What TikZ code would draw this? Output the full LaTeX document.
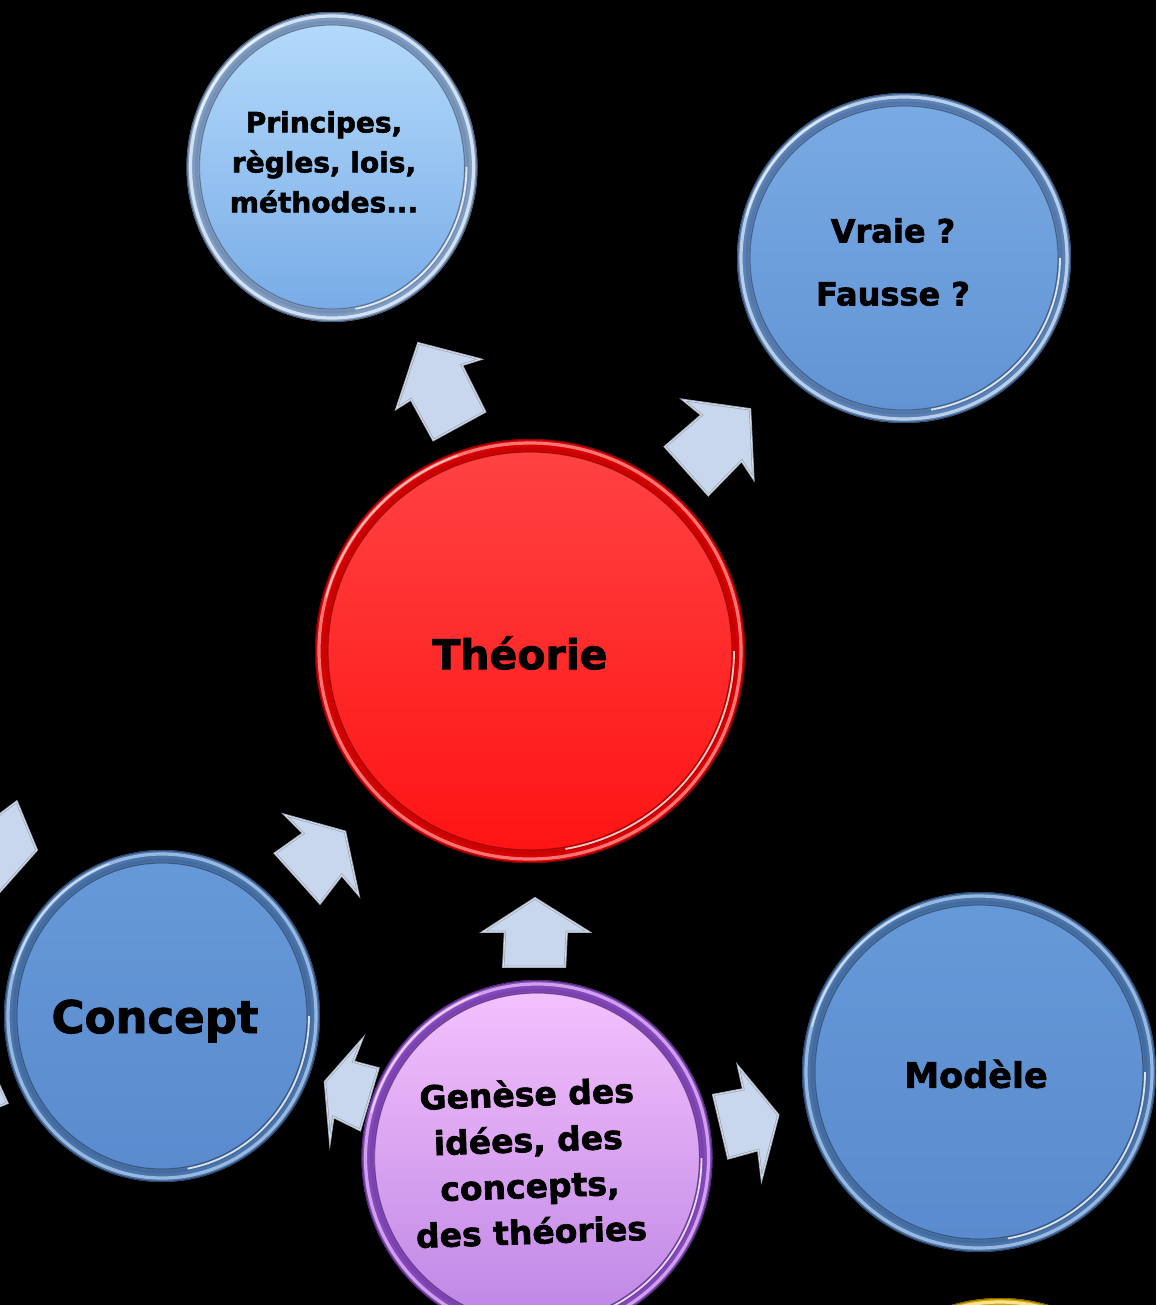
\documentclass[tikz,border=0pt]{standalone}
\usepackage{fontspec}
\setmainfont{DejaVu Sans}[BoldFeatures={FakeBold=2}]
\usetikzlibrary{shapes.geometric}

% palette
\definecolor{arrowfill}{HTML}{C9D7EE}
\definecolor{arrowedge}{HTML}{9EA9BD}
\definecolor{pringring}{HTML}{7E9DC4}
\definecolor{pringlight}{HTML}{E2EEFA}
\definecolor{printop}{HTML}{B3DAFB}
\definecolor{prinbot}{HTML}{79ACE7}
\definecolor{vrairing}{HTML}{5A82B6}
\definecolor{vrailight}{HTML}{CADDF2}
\definecolor{vraitop}{HTML}{79AAE3}
\definecolor{vraibot}{HTML}{6294D5}
\definecolor{bluering}{HTML}{4A74AC}
\definecolor{bluelight}{HTML}{A6C5EA}
\definecolor{bluetop}{HTML}{6699D8}
\definecolor{bluebot}{HTML}{5A8BCE}
\definecolor{redring}{HTML}{D80000}
\definecolor{redlight}{HTML}{FF8A8A}
\definecolor{redtop}{HTML}{FF4242}
\definecolor{redbot}{HTML}{FF1414}
\definecolor{purring}{HTML}{8548BC}
\definecolor{purlight}{HTML}{DDB0F4}
\definecolor{purtop}{HTML}{F4C0FC}
\definecolor{purbot}{HTML}{BE86E5}
\definecolor{yelring}{HTML}{D6A400}
\definecolor{yellight}{HTML}{FFF0A0}
\definecolor{yeltop}{HTML}{FFD400}
\definecolor{yelbot}{HTML}{F0B800}

% bevelled disc: centre x, centre y, rx, ry, ring, ring light, top fill, bottom fill
\newcommand\bevdisc[8]{%
  \fill[#5] (#1,#2) ellipse [x radius=#3, y radius=#4];
  \draw[#5!60!black, line width=.9pt] (#1,#2) ellipse [x radius=#3-.5, y radius=#4-.5];
  \draw[#6, line width=3.2pt, opacity=.85] (#1,#2) ellipse [x radius=#3-4, y radius=#4-4];
  \draw[#5!85!black, line width=3pt, opacity=.5] (#1,#2) ellipse [x radius=#3-10, y radius=#4-10];
  \fill[top color=#7, bottom color=#8] (#1,#2) ellipse [x radius=#3-13, y radius=#4-13];
  \draw[#5!70!black, line width=1.2pt, opacity=.7] (#1,#2) ellipse [x radius=#3-13, y radius=#4-13];
  \draw[white, opacity=.8, line width=1.8pt]
    (#1,#2) ++(0:{#3-11} and {#4-11}) arc [start angle=0, end angle=80, x radius=#3-11, y radius=#4-11];
  \draw[white, opacity=.55, line width=1.5pt]
    (#1,#2) ++(195:{#3-4} and {#4-4}) arc [start angle=195, end angle=250, x radius=#3-4, y radius=#4-4];
}

\begin{document}
\begin{tikzpicture}[x=1pt, y=-1pt,
  txt/.style={font=\bfseries, text=black, align=center, inner sep=0pt},
  blockarrow/.style={fill=arrowfill, draw=arrowedge, line width=2.4pt, line join=miter,
    postaction={draw=white, line width=.7pt, opacity=.7}},
]
\fill[black] (0,0) rectangle (1156,1305);
\useasboundingbox (0,0) rectangle (1156,1305);

% discs
\bevdisc{332}{167}{145.5}{155}{pringring}{pringlight}{printop}{prinbot}
\bevdisc{904}{258}{167}{165}{vrairing}{vrailight}{vraitop}{vraibot}
\bevdisc{530}{651}{215}{212}{redring}{redlight}{redtop}{redbot}
\bevdisc{162}{1016}{158}{166}{bluering}{bluelight}{bluetop}{bluebot}
\bevdisc{979}{1072}{177}{180}{bluering}{bluelight}{bluetop}{bluebot}
\bevdisc{537}{1158}{175.5}{178}{purring}{purlight}{purtop}{purbot}
\bevdisc{1000}{1470}{172}{172}{yelring}{yellight}{yeltop}{yelbot}

% labels
\node[txt, font=\bfseries\fontsize{28}{40}\selectfont] (princ) at (324,162)
  {Principes,\\règles, lois,\\méthodes...};
\node[txt, font=\bfseries\fontsize{32}{63}\selectfont] (vraie) at (893,262)
  {Vraie ?\\Fausse ?};
\node[txt, font=\bfseries\fontsize{41}{48}\selectfont] (theo) at (520,653) {Théorie};
\node[txt, font=\bfseries\fontsize{45}{52}\selectfont] (concept) at (155,1021) {Concept};
\node[txt, font=\bfseries\fontsize{35}{42}\selectfont] (modele) at (976,1074) {Modèle};
\node[txt, font=\bfseries\fontsize{33}{46}\selectfont, rotate=2] (genese) at (529,1162)
  {Genèse des\\idées, des\\concepts,\\des théories};

% block arrows
\draw[blockarrow] (418.3,343.3) -- (480,359.3) -- (461.7,365) -- (485,411.7)
  -- (433.3,440) -- (411,399.3) -- (396.7,408.3) -- cycle;
\draw[blockarrow] (750,409.3) -- (683.3,400) -- (701.7,415) -- (665,446.7)
  -- (708.3,495) -- (741.7,460.7) -- (753.3,478.3) -- cycle;
\draw[blockarrow] (345,831.7) -- (285,815) -- (303.3,833.3) -- (275,853.3)
  -- (320,903.3) -- (341.7,875) -- (358.3,894.3) -- cycle;
\draw[blockarrow] (535,898.3) -- (588.3,931.7) -- (566.7,931.7) -- (565,966.7)
  -- (503.3,966.7) -- (505,931.7) -- (483.3,931.7) -- cycle;
\draw[blockarrow] (325,1081.7) -- (361.7,1040) -- (353.3,1061.7) -- (378.3,1068.3)
  -- (360,1130) -- (333.3,1116.7) -- (330,1140) -- cycle;
\draw[blockarrow] (778.3,1115) -- (738.3,1066.7) -- (743.3,1089.3) -- (713.3,1095)
  -- (728.3,1158.3) -- (758.3,1150) -- (761.7,1178.3) -- cycle;
% arrows entering from the left edge
\draw[blockarrow] (-5,818) -- (16.7,801.7) -- (36.7,850) -- (-5,897);
\draw[blockarrow] (-5,1076) -- (7.3,1103) -- (-5,1108);
\end{tikzpicture}
\end{document}
